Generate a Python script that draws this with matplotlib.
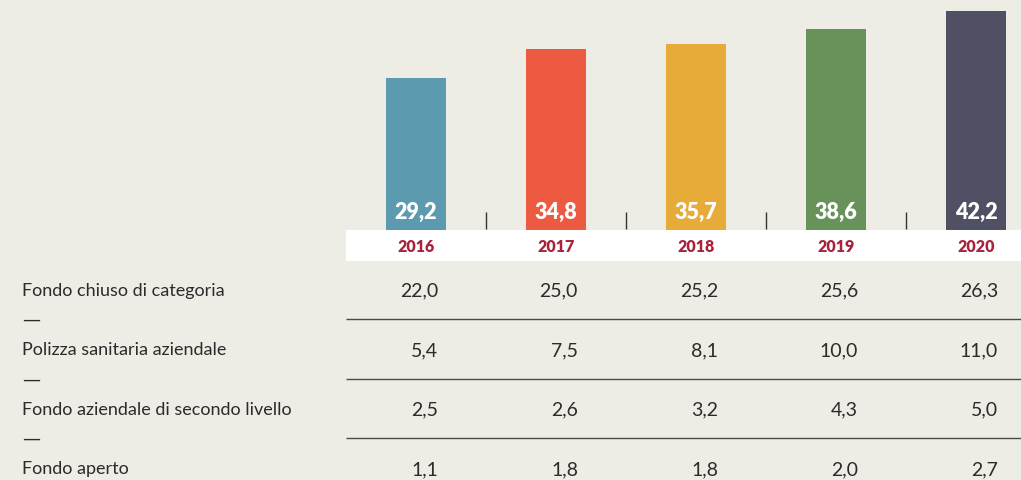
import numpy as np
import matplotlib.pyplot as plt

years = ["2016", "2017", "2018", "2019", "2020"]
totals = [29.2, 34.8, 35.7, 38.6, 42.2]
bar_colors = ["#5c9aaf", "#ec5b41", "#e6ab39", "#67925a", "#4f5063"]

rows = ["Fondo chiuso di categoria",
        "Polizza sanitaria aziendale",
        "Fondo aziendale di secondo livello",
        "Fondo aperto"]
table = [
    [22.0, 25.0, 25.2, 25.6, 26.3],
    [5.4, 7.5, 8.1, 10.0, 11.0],
    [2.5, 2.6, 3.2, 4.3, 5.0],
    [1.1, 1.8, 1.8, 2.0, 2.7],
]

BG = "#edece5"
RED = "#a8233c"
INK = "#2b2b2b"
FONT = ["Lato", "DejaVu Sans"]

W, H = 1021, 481
fig = plt.figure(figsize=(W / 100, H / 100), dpi=100, facecolor=BG)


def px_axes(x0, y0, x1, y1):
    # axes placed by pixel box (top-left origin)
    return fig.add_axes([x0 / W, 1 - y1 / H, (x1 - x0) / W, (y1 - y0) / H])


def fmt(v):
    return f"{v:.1f}".replace(".", ",")


step = 140.0
first = 416.0
xs = np.arange(len(years))
right_lim = (W - first) / step

# bars
ax = px_axes(346, 0, W, 231)
ax.set_facecolor(BG)
ax.bar(xs, totals, width=60 / step, color=bar_colors)
ax.set_xlim(-70 / step, right_lim)
ax.set_ylim(0, 231 / 5.2)
ax.vlines(xs[:-1] + 0.5, 0.2, 3.4, color="#333333", lw=1.0)
for x, v in zip(xs, totals):
    ax.annotate(fmt(v), (x, 0), xytext=(0, 13.5), textcoords="offset points",
                ha="center", va="center", color="white", fontsize=15.5,
                fontweight="heavy", family=FONT)
ax.axis("off")

# year band
band = px_axes(346, 231, W, 262)
band.set_facecolor("white")
band.set_xlim(-70 / step, right_lim)
band.set_ylim(0, 1)
for x, y in zip(xs, years):
    band.text(x, 0.47, y, ha="center", va="center", color=RED,
              fontsize=11.5, fontweight="heavy", family=FONT)
band.set_xticks([])
band.set_yticks([])
for s in band.spines.values():
    s.set_visible(False)

# table
row_gap = 59.5
tab = px_axes(0, 262, W, H)
tab.set_facecolor("none")
tab.set_xlim(-first / step, right_lim)
tab.set_ylim((H - 291) / row_gap, (262 - 291) / row_gap)
tab.axis("off")
lab_x = (22 - first) / step
for r, (name, vals) in enumerate(zip(rows, table)):
    tab.text(lab_x, r, name, ha="left", va="center", color=INK,
             fontsize=13, family=FONT)
    for x, v in zip(xs, vals):
        tab.text(x + 22 / step, r, fmt(v), ha="right", va="center",
                 color=INK, fontsize=14, family=FONT)
    if r < len(rows) - 1:
        tab.text(lab_x, r + 0.49, "—", ha="left", va="center",
                 color=INK, fontsize=13, family="DejaVu Sans")
        tab.hlines(r + 0.49, -70 / step, right_lim, color="#4a4a4a", lw=1.0)

fig.savefig("out.png", dpi=100, facecolor=BG)
